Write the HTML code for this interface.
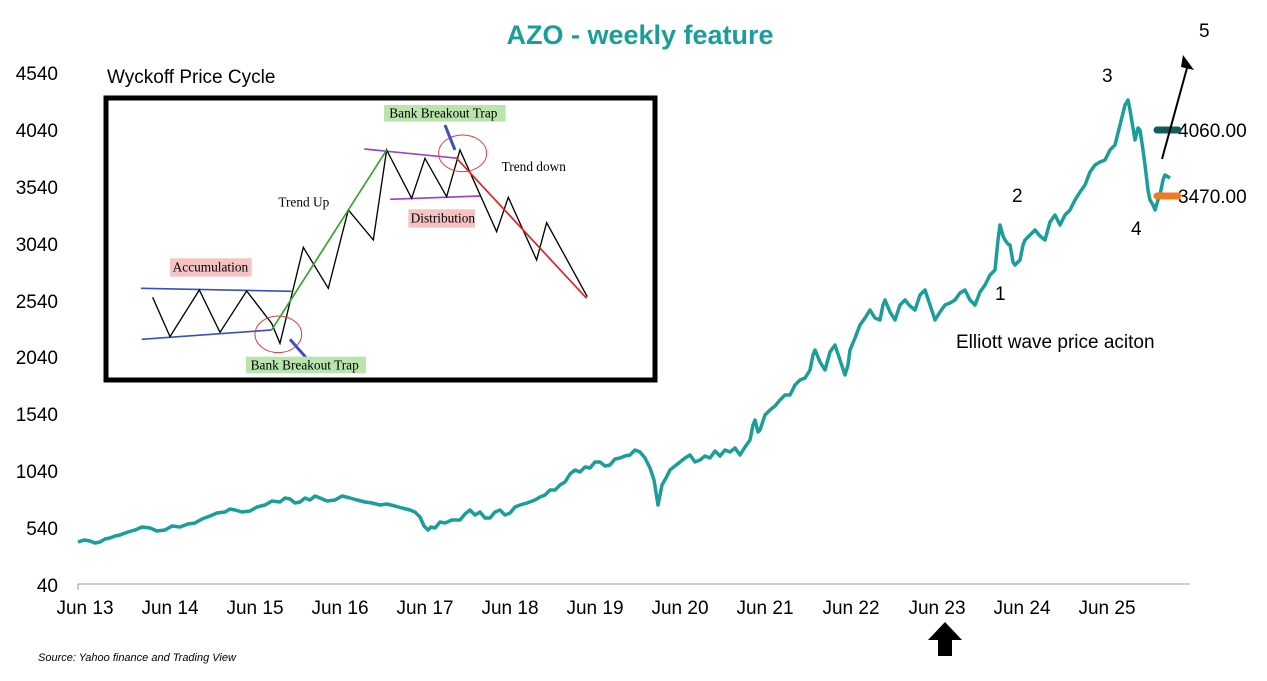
<!DOCTYPE html>
<html><head><meta charset="utf-8"><style>
body{margin:0;background:#fff;}
svg{display:block;font-family:"Liberation Sans",sans-serif;}
</style></head><body>
<svg width="1267" height="681" viewBox="0 0 1267 681">
<text x="640" y="44" text-anchor="middle" font-size="27" font-weight="bold" fill="#1a9e9a">AZO - weekly feature</text>
<g font-size="19" fill="#000" text-anchor="end">
<text x="58" y="80">4540</text><text x="58" y="137">4040</text><text x="58" y="194">3540</text>
<text x="58" y="251">3040</text><text x="58" y="308">2540</text><text x="58" y="364">2040</text>
<text x="58" y="421">1540</text><text x="58" y="478">1040</text><text x="58" y="535">540</text>
<text x="58" y="592">40</text></g>
<line x1="78" y1="584" x2="1190" y2="584" stroke="#999" stroke-width="1"/>
<g stroke="#999"><line x1="78" y1="584" x2="78" y2="590"/></g>
<g font-size="19" fill="#000" text-anchor="middle">
<text x="85" y="614">Jun 13</text><text x="170" y="614">Jun 14</text><text x="255" y="614">Jun 15</text>
<text x="340" y="614">Jun 16</text><text x="425" y="614">Jun 17</text><text x="510" y="614">Jun 18</text>
<text x="595" y="614">Jun 19</text><text x="680" y="614">Jun 20</text><text x="765" y="614">Jun 21</text>
<text x="851" y="614">Jun 22</text><text x="937" y="614">Jun 23</text><text x="1022" y="614">Jun 24</text>
<text x="1107" y="614">Jun 25</text></g>
<polygon points="938,656 952,656 952,640 962,640 945,622 928,640 938,640" fill="#000"/>
<text x="38" y="661" font-size="11" font-style="italic">Source: Yahoo finance and Trading View</text>
<polyline fill="none" stroke="#1a9e9a" stroke-width="3.5" stroke-linejoin="round" points="78,542 84,540 90,541 95,543 100,542 105,539 110,538 115,536 120,535 128,532 135,530 142,527 150,528 157,531 165,530 172,526 180,527 188,524 195,523 202,519 210,516 217,513 225,512 230,509 235,510 242,512 250,511 257,507 265,505 272,501 280,502 285,498 290,499 295,503 300,502 305,498 310,500 315,496 320,498 327,501 335,500 342,496 350,498 357,500 365,502 372,503 380,505 387,504 395,506 402,508 410,510 415,512 420,517 424,526 428,530 431,527 435,528 440,522 445,523 452,520 460,520 465,514 470,510 475,515 480,512 485,518 490,518 495,512 500,510 505,515 510,513 515,507 520,505 527,503 535,500 540,497 545,495 550,490 555,490 560,485 565,482 570,474 575,470 580,472 585,467 590,468 595,462 600,462 605,466 610,465 615,459 620,458 625,456 630,455 635,450 640,452 645,458 650,468 654,480 658,505 660,495 662,485 666,478 670,470 675,466 680,462 685,458 690,455 695,462 700,460 705,456 710,458 715,451 720,456 725,450 730,452 735,448 740,455 745,447 750,440 753,425 755,420 758,432 760,430 765,415 770,410 775,406 780,400 785,395 790,395 795,385 800,380 805,378 810,370 813,355 815,350 820,362 825,370 830,352 835,345 840,360 845,375 848,365 850,350 855,338 860,325 865,318 870,310 875,318 880,320 883,305 885,300 890,312 895,320 900,305 905,300 910,306 915,310 920,295 925,290 930,305 935,320 940,312 945,305 950,303 955,300 960,293 965,290 970,300 975,305 980,292 985,285 990,275 995,270 998,240 1000,225 1003,236 1005,240 1008,244 1010,245 1013,262 1015,265 1018,262 1020,260 1023,245 1025,240 1030,235 1035,230 1040,236 1045,240 1050,222 1055,215 1060,225 1065,215 1070,210 1075,200 1080,192 1085,185 1090,172 1095,165 1100,162 1105,160 1110,150 1115,145 1120,125 1125,105 1128,100 1130,110 1133,128 1135,140 1138,128 1140,130 1143,150 1145,165 1148,190 1150,200 1153,205 1155,210 1158,200 1160,195 1163,180 1165,175 1170,178"/>
<g font-size="19" fill="#000">
<text x="995" y="300">1</text><text x="1012" y="202">2</text><text x="1102" y="82">3</text><text x="1131" y="235">4</text><text x="1199" y="37">5</text>
<text x="956" y="348">Elliott wave price aciton</text>
<text x="1178" y="137">4060.00</text><text x="1178" y="203">3470.00</text>
<text x="107" y="83">Wyckoff Price Cycle</text></g>
<line x1="1157" y1="130" x2="1178" y2="130" stroke="#145c5a" stroke-width="7" stroke-linecap="round"/>
<line x1="1157" y1="196" x2="1178" y2="196" stroke="#f07a22" stroke-width="7" stroke-linecap="round"/>
<line x1="1162" y1="159" x2="1187" y2="68" stroke="#000" stroke-width="2"/>
<polygon points="1183,55 1194,70 1181,67" fill="#000"/>
<rect x="106" y="98" width="549" height="282" fill="#fff" stroke="#000" stroke-width="5"/>
<g transform="translate(100,90) scale(0.3333)">
<line x1="123" y1="595" x2="575" y2="604" stroke="#3a4fc0" stroke-width="5"/>
<line x1="125" y1="748" x2="515" y2="720" stroke="#3a4fc0" stroke-width="5"/>
<line x1="793" y1="177" x2="1075" y2="205" stroke="#9a44c8" stroke-width="5"/>
<line x1="870" y1="328" x2="1140" y2="318" stroke="#9a44c8" stroke-width="5"/>
<polyline fill="none" stroke="#000" stroke-width="4" points="158,622 210,740 298,600 360,727 440,603 515,700 540,760 610,472 685,595 745,360 820,450 860,180 935,325 975,205 1040,320 1080,180 1190,425 1225,322 1310,510 1340,398 1462,620"/>
<polyline fill="none" stroke="#2aa82a" stroke-width="5" points="515,720 860,180"/>
<polyline fill="none" stroke="#e02020" stroke-width="5" points="1070,205 1460,625"/>
<ellipse cx="535" cy="733" rx="70" ry="55" fill="none" stroke="#e04040" stroke-width="3"/>
<ellipse cx="1088" cy="190" rx="72" ry="55" fill="none" stroke="#e04040" stroke-width="3"/>
<line x1="620" y1="805" x2="570" y2="748" stroke="#3a4fc0" stroke-width="9"/>
<line x1="1035" y1="105" x2="1065" y2="180" stroke="#3a4fc0" stroke-width="9"/>
<rect x="210" y="505" width="245" height="55" fill="#f6c2c2"/>
<text x="218" y="545" font-family="Liberation Serif" font-size="40">Accumulation</text>
<rect x="925" y="358" width="200" height="55" fill="#f6c2c2"/>
<text x="932" y="397" font-family="Liberation Serif" font-size="40">Distribution</text>
<rect x="438" y="800" width="360" height="50" fill="#b9e5ad"/>
<text x="452" y="838" font-family="Liberation Serif" font-size="40">Bank Breakout Trap</text>
<rect x="852" y="45" width="365" height="50" fill="#b9e5ad"/>
<text x="868" y="83" font-family="Liberation Serif" font-size="40">Bank Breakout Trap</text>
<text x="535" y="350" font-family="Liberation Serif" font-size="40">Trend Up</text>
<text x="1205" y="243" font-family="Liberation Serif" font-size="40">Trend down</text>
</g>
</svg>
</body></html>
